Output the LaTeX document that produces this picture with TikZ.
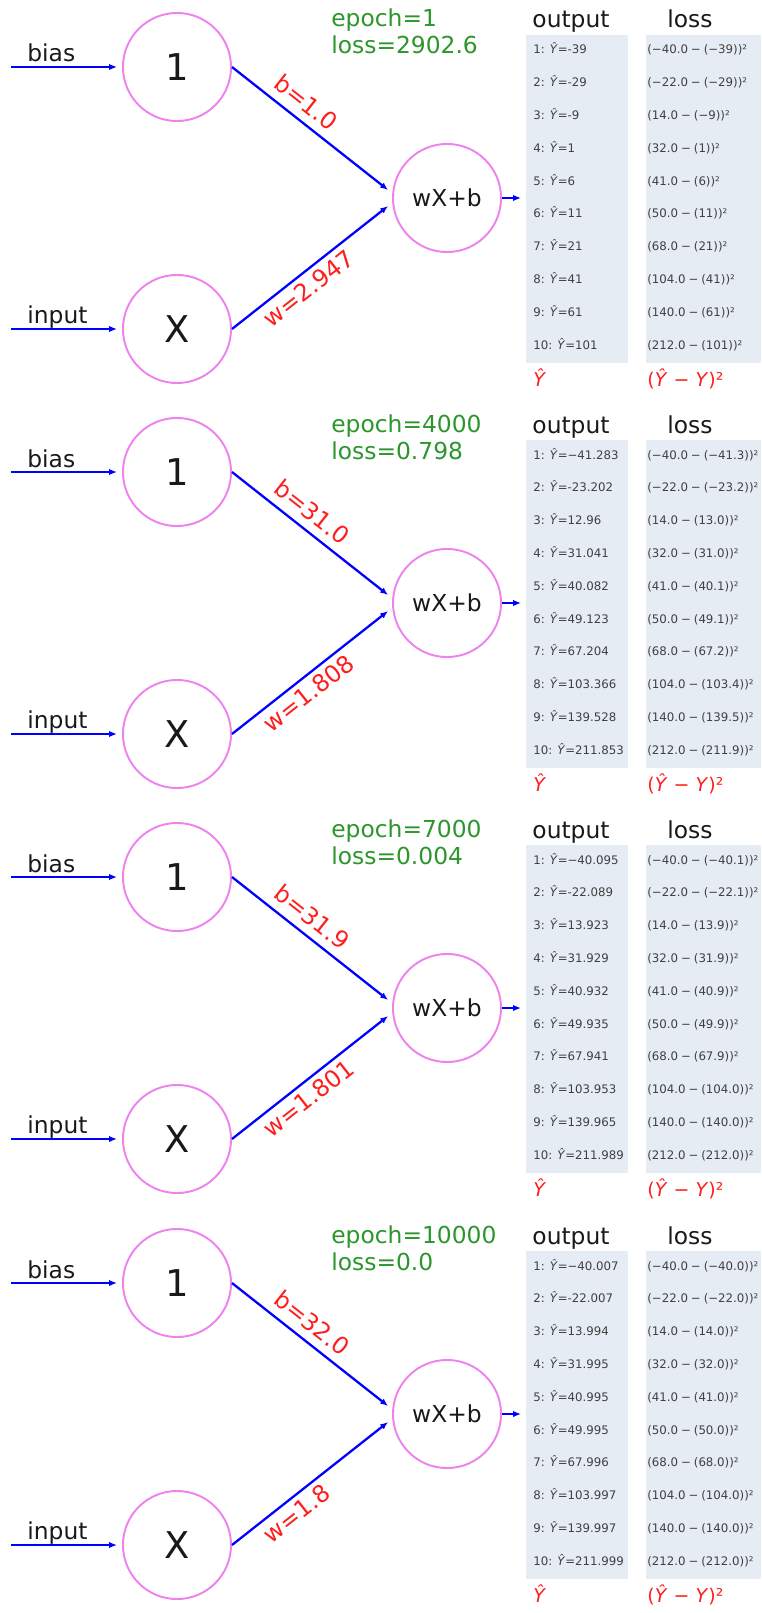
\documentclass[tikz,border=0pt]{standalone}
\usepackage{fontspec}
\setmainfont{DejaVu Sans}
\usepackage{tikz}
\usetikzlibrary{arrows.meta}
\definecolor{NeuronPink}{RGB}{238,130,238}
\definecolor{WireBlue}{RGB}{0,0,255}
\definecolor{WeightRed}{RGB}{255,30,30}
\definecolor{EpochGreen}{RGB}{44,150,44}
\definecolor{PanelBlue}{RGB}{230,236,244}
\definecolor{RowGray}{RGB}{64,64,64}
\tikzset{
  neuron/.style={circle,draw=NeuronPink,line width=1.1pt,fill=white,minimum size=61.5pt,inner sep=0pt,
    text=black!90,font=\fontsize{13.3}{16}\selectfont},
  bigdigit/.style={font=\fontsize{21}{21}\selectfont},
  wire/.style={draw=WireBlue,line width=1.3pt,-{Latex[length=4.5pt,width=3.6pt]},shorten >=2.8pt},
  wlab/.style={sloped,text=WeightRed,inner xsep=0pt,font=\fontsize{13.5}{16}\selectfont},
  big/.style={inner sep=0pt,text=black!90,font=\fontsize{13.3}{16}\selectfont},
  note/.style={big,text=EpochGreen},
  colbox/.style={fill=PanelBlue},
  rowtxt/.style={inner sep=0pt,text=RowGray,anchor=base west,font=\fontsize{6.7}{8}\selectfont},
  yhat/.style={inner sep=0pt,text=WeightRed,anchor=base west,font=\fontsize{10.8}{13}\selectfont}
}
% targets Y for the ten samples
\newcommand{\truey}[1]{\ifcase#1\or −40.0\or −22.0\or 14.0\or 32.0\or 41.0\or 50.0\or 68.0\or 104.0\or 140.0\or 212.0\fi}
% one training snapshot: #1 y offset, #2 epoch, #3 loss, #4 b, #5 w, #6 rows (yhat/rounded)
\newcommand{\trainpanel}[6]{%
\begin{scope}[shift={(0,#1)}]
  \node[neuron,bigdigit] (one) at (177,67) {1};
  \node[neuron,bigdigit] (xin) at (177,329) {X};
  \node[neuron] (sum) at (447,198) {wX+b};
  \coordinate (bstart) at (11,67);
  \coordinate (istart) at (11,329);
  \coordinate (yend) at (526,198);
  \node[big,anchor=base west] (biaslab) at (27,62) {bias};
  \node[big,anchor=base west] (inlab) at (27,323) {input};
  \draw[wire] (bstart) -- (one);
  \draw[wire] (istart) -- (xin);
  \draw[wire] (one.east) -- node[wlab,pos=0.21,anchor=south west,inner ysep=4.5pt] (blab) {b=#4} ([yshift=2.8pt]sum.west);
  \draw[wire] (xin.east) -- node[wlab,pos=0.15,anchor=north west,inner ysep=3pt] (wlab) {w=#5} ([yshift=-2.8pt]sum.west);
  \draw[wire] (sum) -- (yend);
  \node[note,anchor=base west] (epochlab) at (331,27) {epoch=#2};
  \node[note,anchor=base west] (losslab) at (331,54) {loss=#3};
  % output and loss columns
  \fill[colbox] (526,35) rectangle (628,363);
  \fill[colbox] (646,35) rectangle (761,363);
  \node[big,anchor=base] (outhead) at (571,28) {output};
  \node[big,anchor=base] (losshead) at (690,28) {loss};
  \foreach \yh/\yr [count=\i] in {#6} {
    \node[rowtxt] (out\i) at (533,{54+32.8*(\i-1)}) {\i: \textit{Ŷ}=\yh};
    \node[rowtxt] (err\i) at (647,{54+32.8*(\i-1)}) {(\truey{\i}\hspace{0.25em}−\hspace{0.25em}(\yr))²};
  }
  \node[yhat] (yhatlab) at (533,386) {\textit{Ŷ}};
  \node[yhat] (errlab) at (647,386) {(\textit{Ŷ} − \textit{Y})²};
\end{scope}}

\begin{document}
\begin{tikzpicture}[x=0.2mm,y=-0.2mm]
\useasboundingbox (0,0) rectangle (761,1613);
\trainpanel{0}{1}{2902.6}{1.0}{2.947}{-39/−39,-29/−29,-9/−9,1/1,6/6,11/11,21/21,41/41,61/61,101/101}
\trainpanel{405}{4000}{0.798}{31.0}{1.808}{−41.283/−41.3,-23.202/−23.2,12.96/13.0,31.041/31.0,40.082/40.1,49.123/49.1,67.204/67.2,103.366/103.4,139.528/139.5,211.853/211.9}
\trainpanel{810}{7000}{0.004}{31.9}{1.801}{−40.095/−40.1,-22.089/−22.1,13.923/13.9,31.929/31.9,40.932/40.9,49.935/49.9,67.941/67.9,103.953/104.0,139.965/140.0,211.989/212.0}
\trainpanel{1216}{10000}{0.0}{32.0}{1.8}{−40.007/−40.0,-22.007/−22.0,13.994/14.0,31.995/32.0,40.995/41.0,49.995/50.0,67.996/68.0,103.997/104.0,139.997/140.0,211.999/212.0}
\end{tikzpicture}
\end{document}
